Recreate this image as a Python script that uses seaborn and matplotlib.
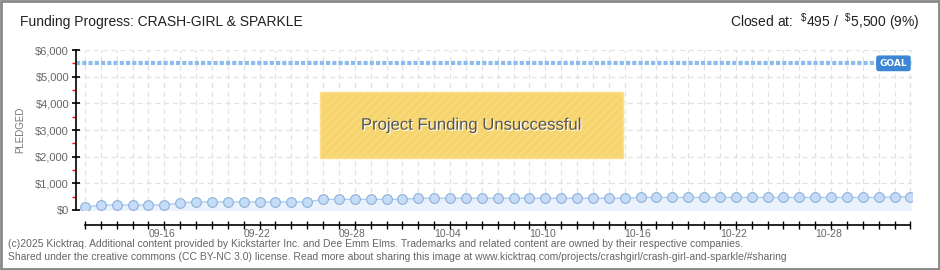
import pandas as pd
import matplotlib
matplotlib.use("Agg")
import matplotlib.pyplot as plt
import matplotlib.dates as mdates
from matplotlib.patches import Rectangle
import matplotlib.patheffects as pe
import seaborn as sns

# data
start_date = "2025-09-12"
pledged = [100, 185, 185, 185, 185, 185, 270, 300, 300, 300,
           300, 300, 300, 300, 300, 400, 400, 400, 400, 400,
           400, 440, 440, 440, 440, 440, 440, 440, 440, 440,
           440, 440, 440, 440, 440, 470, 470, 470, 470, 470,
           470, 470, 470, 470, 470, 470, 470, 470, 470, 470,
           470, 495, 495]
goal = 5500
y_ticks = [0, 1000, 2000, 3000, 4000, 5000, 6000]
y_labels = ["$0", "$1,000", "$2,000", "$3,000", "$4,000", "$5,000", "$6,000"]
x_labels = ["09-16", "09-22", "09-28", "10-04", "10-10", "10-16", "10-22", "10-28"]

dates = pd.date_range(start_date, periods=len(pledged), freq="D")
df = pd.DataFrame({"date": dates, "pledged": pledged})

sns.set_style("white")
plt.rcParams["font.family"] = ["Liberation Sans", "DejaVu Sans"]
plt.rcParams["mathtext.fontset"] = "custom"
plt.rcParams["mathtext.rm"] = "Liberation Sans"
plt.rcParams["hatch.color"] = "#f0cd62"
plt.rcParams["hatch.linewidth"] = 0.6

fig = plt.figure(figsize=(9.4, 2.7), dpi=100)
ax = fig.add_axes([76 / 940, 60 / 270, 836 / 940, 160 / 270])

# fill + line
ax.fill_between(df["date"], 0, df["pledged"], color="#eaf3fd", zorder=1)
sns.lineplot(data=df, x="date", y="pledged", ax=ax, color="#a9cdf5", lw=1,
             marker="o", markersize=7, markerfacecolor="#c5dcf7",
             markeredgecolor="#8fb0d8", markeredgewidth=0.8, zorder=3)

# goal line
ax.axhline(goal, color="#8ebbee", lw=3, linestyle=(0, (1.0, 0.5)), zorder=2)
ax.text(dates[-1] - pd.Timedelta(days=0.2), goal, "GOAL", color="white",
        fontsize=6.5, fontweight="bold", ha="right", va="center", zorder=5,
        family="DejaVu Sans",
        bbox=dict(boxstyle="round,pad=0.3,rounding_size=0.2", fc="#3b86d5", ec="#3b86d5"))

ax.set_ylim(0, 6000)
ax.set_xlim(dates[0] - pd.Timedelta(days=0.56), dates[-1] + pd.Timedelta(days=0.1))

# ticks and grid
ax.set_yticks(y_ticks)
ax.set_yticklabels(y_labels)
ax.set_yticks([500, 1500, 2500, 3500, 4500, 5500], minor=True)
ax.set_xticks(dates)
lab = []
for d in dates:
    s = d.strftime("%m-%d")
    lab.append(s if s in x_labels else "")
ax.set_xticklabels(lab)
ax.grid(True, which="major", color="#e2e2e2", lw=0.9, linestyle=(0, (4, 3)))
ax.set_axisbelow(True)

for s in ["top", "right"]:
    ax.spines[s].set_visible(False)
ax.spines["left"].set_color("black")
ax.spines["left"].set_linewidth(1.2)
ax.spines["bottom"].set_position(("outward", 11))
ax.spines["bottom"].set_bounds(mdates.date2num(dates[0]), mdates.date2num(dates[-1]))
ax.spines["bottom"].set_color("black")
ax.spines["bottom"].set_linewidth(1.2)

ax.tick_params(axis="y", which="major", direction="inout", length=6, width=1.2,
               color="black", labelsize=8, labelcolor="#666666", pad=2, left=True)
ax.tick_params(axis="y", which="minor", direction="out", length=3, width=1,
               color="red", left=True)
ax.tick_params(axis="x", which="major", direction="inout", length=6, width=1,
               color="black", labelsize=7.5, labelcolor="#666666", pad=0, bottom=True)
for t in ax.get_xticklabels():
    t.set_horizontalalignment("left")
ax.set_xlabel("")
ax.set_ylabel("PLEDGED", fontsize=7, color="#777777", labelpad=7)

# unsuccessful banner
ax.add_patch(Rectangle((0.292, 0.325), 0.362, 0.4125, transform=ax.transAxes,
                       facecolor="#f7d56e", edgecolor="#f9e08f", lw=1,
                       hatch="////", zorder=4))
ax.text(0.473, 0.53, "Project Funding Unsuccessful", transform=ax.transAxes,
        ha="center", va="center", fontsize=12, color="#555555", zorder=6,
        path_effects=[pe.withSimplePatchShadow(offset=(0.8, -0.8), shadow_rgbFace="white", alpha=1)])

# header
fig.text(20 / 940, 1 - 22 / 270, "Funding Progress: CRASH-GIRL & SPARKLE",
         fontsize=10, color="#222222", va="center", ha="left")
fig.text(920 / 940, 1 - 22 / 270, r"Closed at:  $^{\$}$495 /  $^{\$}$5,500 (9%)",
         fontsize=10, color="#222222", va="center", ha="right")

# footer
fig.text(8 / 940, 1 - 244 / 270,
         "(c)2025 Kicktraq. Additional content provided by Kickstarter Inc. and Dee Emm Elms. "
         "Trademarks and related content are owned by their respective companies.",
         fontsize=7.5, color="#666666", va="center", ha="left")
fig.text(8 / 940, 1 - 257 / 270,
         "Shared under the creative commons (CC BY-NC 3.0) license. Read more about sharing this image at "
         "www.kicktraq.com/projects/crashgirl/crash-girl-and-sparkle/#sharing",
         fontsize=7.5, color="#666666", va="center", ha="left")

# outer frame
fig.patches.append(Rectangle((0.001, 0.002), 0.998, 0.996, transform=fig.transFigure,
                             fill=False, edgecolor="#888888", lw=2))

fig.savefig("out.png", dpi=100)
